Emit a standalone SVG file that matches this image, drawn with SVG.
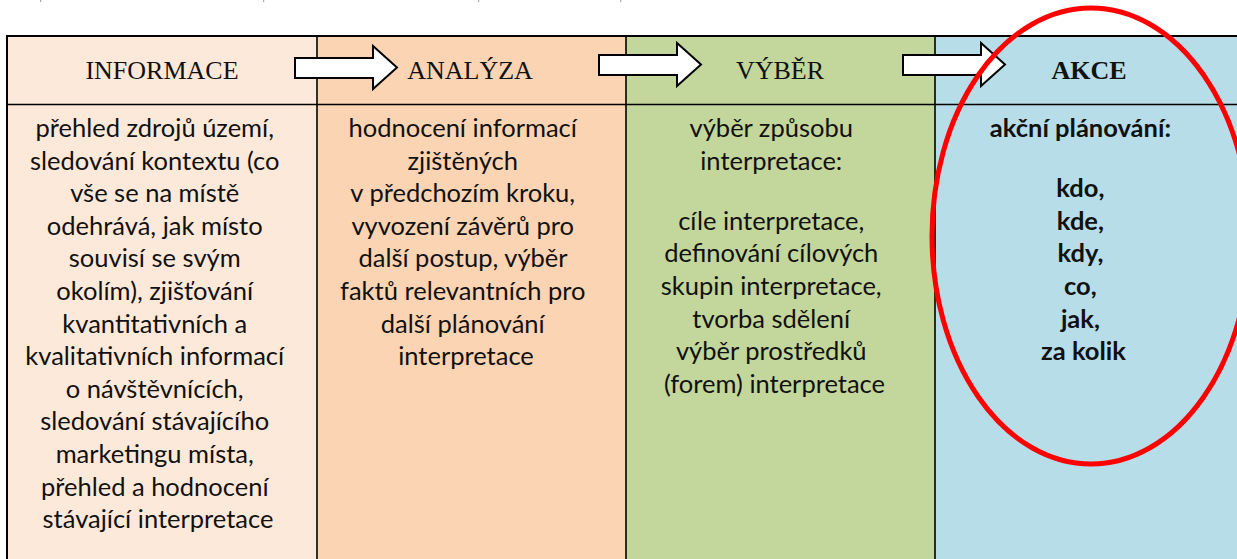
<svg xmlns="http://www.w3.org/2000/svg" width="1237" height="559" viewBox="0 0 1237 559">
<style>
.hd{font-family:"Liberation Serif","Times New Roman",serif;font-size:26px;fill:#111;text-anchor:middle}
.bd{font-family:Lato,"Open Sans",sans-serif;font-size:25.5px;fill:#111;text-anchor:middle}
.b{font-weight:bold}
.grid{stroke:#000;fill:none}
.arrow{fill:#fff;stroke:#000;stroke-width:2;stroke-linejoin:miter}
</style>
<defs>
<polygon id="arr" class="arrow" points="0,12 78,12 78,0 102,21.5 78,43 78,32 0,32"/>
</defs>
<rect width="1237" height="559" fill="#fff"/>
<g id="marks" fill="#aaa">
<rect x="40" y="0" width="1.2" height="2"/>
<rect x="263" y="0" width="1.2" height="2"/>
<rect x="478" y="0" width="1.2" height="2"/>
<rect x="620" y="0" width="1.2" height="2"/>
</g>
<g id="col-informace">
<rect x="7" y="36" width="310" height="523" fill="#FDE9D9"/>
<text class="hd" x="162" y="79">INFORMACE</text>
<text class="bd">
<tspan x="158" y="137">přehled zdrojů území,</tspan>
<tspan x="158" y="169.6">sledování kontextu (co</tspan>
<tspan x="158" y="202.2">vše se na místě</tspan>
<tspan x="158" y="234.8">odehrává, jak místo</tspan>
<tspan x="158" y="267.4">souvisí se svým</tspan>
<tspan x="158" y="300">okolím), zjišťování</tspan>
<tspan x="158" y="332.6">kvantitativních a</tspan>
<tspan x="158" y="365.2">kvalitativních informací</tspan>
<tspan x="158" y="397.8">o návštěvnících,</tspan>
<tspan x="158" y="430.4">sledování stávajícího</tspan>
<tspan x="158" y="463">marketingu místa,</tspan>
<tspan x="158" y="495.6">přehled a hodnocení</tspan>
<tspan x="158" y="528.2">stávající interpretace</tspan>
</text>
</g>
<g id="col-analyza">
<rect x="317" y="36" width="309" height="523" fill="#FBD4B4"/>
<text class="hd" x="470" y="79">ANALÝZA</text>
<text class="bd">
<tspan x="466" y="137">hodnocení informací</tspan>
<tspan x="466" y="169.6">zjištěných</tspan>
<tspan x="466" y="202.2">v předchozím kroku,</tspan>
<tspan x="466" y="234.8">vyvození závěrů pro</tspan>
<tspan x="466" y="267.4">další postup, výběr</tspan>
<tspan x="466" y="300">faktů relevantních pro</tspan>
<tspan x="466" y="332.6">další plánování</tspan>
<tspan x="466" y="365.2">interpretace</tspan>
</text>
</g>
<g id="col-vyber">
<rect x="626" y="36" width="309" height="523" fill="#C3D69B"/>
<text class="hd" x="780" y="79">VÝBĚR</text>
<text class="bd">
<tspan x="774.5" y="137">výběr způsobu</tspan>
<tspan x="774.5" y="169.6">interpretace:</tspan>
<tspan x="774.5" y="229.8">cíle interpretace,</tspan>
<tspan x="774.5" y="262.4">definování cílových</tspan>
<tspan x="774.5" y="295">skupin interpretace,</tspan>
<tspan x="774.5" y="327.6">tvorba sdělení</tspan>
<tspan x="774.5" y="360.2">výběr prostředků</tspan>
<tspan x="774.5" y="392.8">(forem) interpretace</tspan>
</text>
</g>
<g id="col-akce">
<rect x="935" y="36" width="302" height="523" fill="#B6DDE8"/>
<text class="hd b" x="1089" y="79">AKCE</text>
<text class="bd b">
<tspan x="1083.5" y="137">akční plánování:</tspan>
<tspan x="1083.5" y="197.2">kdo,</tspan>
<tspan x="1083.5" y="229.8">kde,</tspan>
<tspan x="1083.5" y="262.4">kdy,</tspan>
<tspan x="1083.5" y="295">co,</tspan>
<tspan x="1083.5" y="327.6">jak,</tspan>
<tspan x="1083.5" y="360.2">za kolik</tspan>
</text>
</g>
<g id="grid" class="grid">
<line x1="6" y1="36" x2="1237" y2="36" stroke-width="2"/>
<line x1="7" y1="35" x2="7" y2="559" stroke-width="2"/>
<line x1="7" y1="104.5" x2="1237" y2="104.5" stroke-width="1.6"/>
<line x1="317" y1="36" x2="317" y2="559" stroke-width="1.6"/>
<line x1="626" y1="36" x2="626" y2="559" stroke-width="1.6"/>
<line x1="935" y1="36" x2="935" y2="559" stroke-width="1.6"/>
</g>
<g id="connectors">
<use href="#arr" x="295" y="46"/>
<use href="#arr" x="599" y="43"/>
<use href="#arr" x="903" y="43"/>
</g>
<g id="highlight">
<ellipse cx="1091" cy="236" rx="159" ry="228" fill="none" stroke="#FF0000" stroke-width="5"/>
</g>
</svg>
